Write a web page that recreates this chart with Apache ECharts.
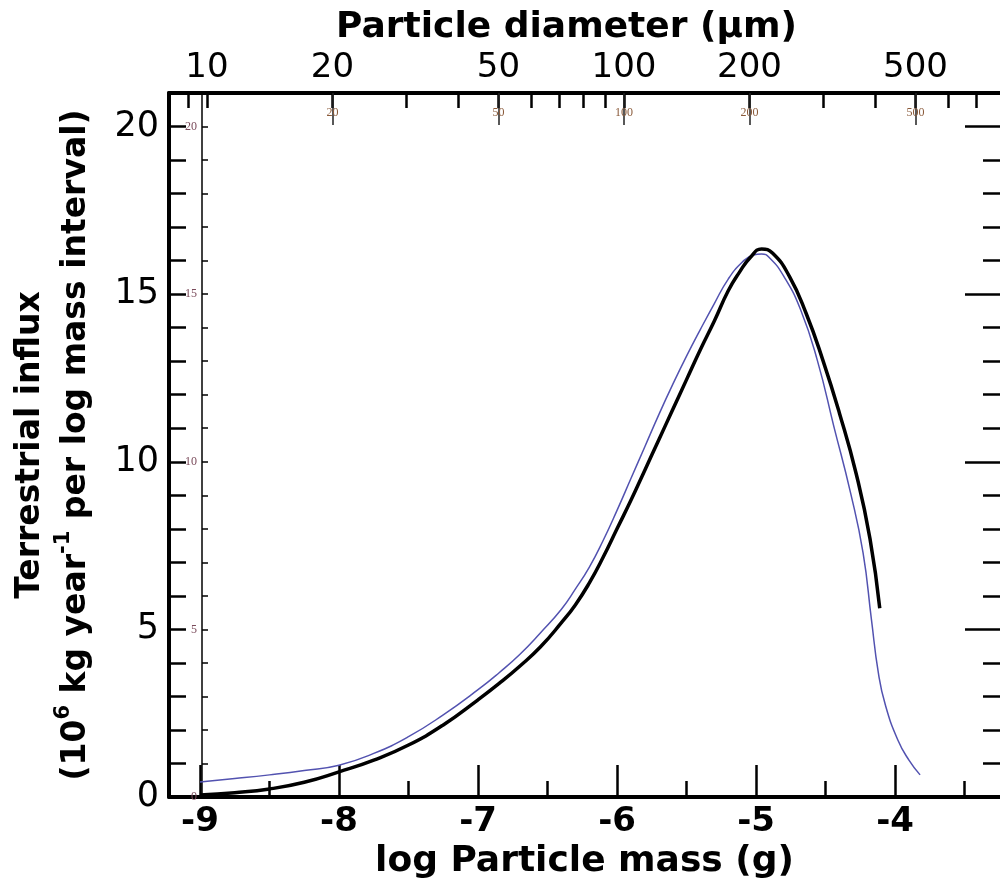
<!DOCTYPE html>
<html>
<head>
<meta charset="utf-8">
<script src="https://cdn.jsdelivr.net/npm/echarts@6/dist/echarts.min.js"></script>
<style>
  html, body { margin: 0; padding: 0; background: #fff; }
  #chart { width: 1000px; height: 888px; }
</style>
</head>
<body>
<div id="chart"></div>
<script>
// log particle mass (g) vs terrestrial influx, model curve (black) and data curve (blue)
var modelMass = [-9.0, -8.75, -8.5, -8.25, -8.0, -7.75, -7.5, -7.25, -7.0, -6.85, -6.7, -6.55, -6.4, -6.3, -6.2, -6.1, -6.0, -5.9, -5.8, -5.7, -5.6, -5.5, -5.4, -5.3, -5.2, -5.12, -5.04, -4.96, -4.88, -4.76, -4.64, -4.52, -4.4, -4.28, -4.18, -4.11];
var modelInflux = [0.06, 0.13, 0.24, 0.44, 0.75, 1.1, 1.55, 2.15, 2.9, 3.38, 3.9, 4.48, 5.2, 5.73, 6.38, 7.15, 8.0, 8.85, 9.75, 10.65, 11.55, 12.45, 13.35, 14.2, 15.1, 15.65, 16.1, 16.35, 16.22, 15.53, 14.43, 13.04, 11.45, 9.65, 7.7, 5.63];

var dataMass = [-9.0, -8.75, -8.5, -8.25, -8.0, -7.75, -7.5, -7.25, -7.0, -6.85, -6.7, -6.55, -6.4, -6.3, -6.2, -6.1, -6.0, -5.9, -5.8, -5.7, -5.6, -5.5, -5.4, -5.3, -5.2, -5.1, -5.02, -4.96, -4.9, -4.8, -4.68, -4.56, -4.44, -4.32, -4.23, -4.17, -4.12, -4.07, -3.98, -3.9, -3.82];
var dataInflux = [0.45, 0.55, 0.66, 0.79, 0.95, 1.3, 1.8, 2.45, 3.2, 3.7, 4.25, 4.9, 5.6, 6.2, 6.85, 7.65, 8.55, 9.5, 10.45, 11.4, 12.3, 13.15, 13.95, 14.72, 15.45, 15.95, 16.17, 16.2, 16.07, 15.53, 14.54, 13.04, 11.05, 9.07, 7.28, 5.3, 3.7, 2.75, 1.7, 1.1, 0.66];

// axis ticks
var massMajor = [-9, -8, -7, -6, -5, -4];
var massMinor = [-8.5, -7.5, -6.5, -5.5, -4.5, -3.5];
var influxLabels = [0, 5, 10, 15, 20];
var diamTicks = [9, 10, 20, 30, 40, 50, 60, 70, 80, 90, 100, 200, 300, 400, 500, 600, 700];
var diamLabels = [10, 20, 50, 100, 200, 500];
var diamInner = [20, 50, 100, 200, 500];

// diameter (um) -> log mass (g), grain density ~2.2 g/cm3
function diamToMass(d) { return -8.95 + 3 * (Math.log10(d) - 1); }
function massToDiam(m) { return Math.round(Math.pow(10, (m + 8.95) / 3 + 1)); }

var xMin = -9.223, xMax = -3.245;
var font = 'DejaVu Sans';
var serif = 'Liberation Serif';

var chartDom = document.getElementById('chart');
var myChart = echarts.init(chartDom);

var modelPts = modelMass.map((m, i) => [m, modelInflux[i]]);
var dataPts = dataMass.map((m, i) => [m, dataInflux[i]]);

var gridRect = { left: 169, right: 0, top: 93, bottom: 91 };

var option = {
    animation: false,
    backgroundColor: '#ffffff',
    // two grids on the same rect: the main one, and one for the underlying figure's marks
    grid: [
        Object.assign({}, gridRect),
        Object.assign({}, gridRect)
    ],
    xAxis: [
        {
            // bottom: major ticks + labels
            gridIndex: 0, type: 'value', position: 'bottom', min: xMin, max: xMax,
            name: 'log Particle mass (g)', nameLocation: 'middle', nameGap: 44,
            nameTextStyle: { fontFamily: font, fontWeight: 'bold', fontSize: 36, color: '#000' },
            axisLine: { show: true, onZero: false, lineStyle: { color: '#000', width: 4 } },
            axisTick: { show: true, inside: true, length: 32, lineStyle: { color: '#000', width: 2.5 }, customValues: massMajor },
            axisLabel: { show: true, customValues: massMajor, margin: 8, fontFamily: font, fontWeight: 'bold', fontSize: 34, color: '#000' },
            splitLine: { show: false }
        },
        {
            // top: particle diameter scale
            gridIndex: 0, type: 'value', position: 'top', min: xMin, max: xMax,
            name: 'Particle diameter (\u00b5m)', nameLocation: 'middle', nameGap: 44,
            nameTextStyle: { fontFamily: font, fontWeight: 'bold', fontSize: 36, color: '#000', padding: [0, 36, 0, 0] },
            axisLine: { show: true, onZero: false, lineStyle: { color: '#000', width: 4 } },
            axisTick: { show: true, inside: true, length: 15, lineStyle: { color: '#000', width: 2.5 }, customValues: diamTicks.map(diamToMass) },
            axisLabel: {
                show: true, customValues: diamLabels.map(diamToMass), margin: 8,
                fontFamily: font, fontSize: 34, color: '#000',
                formatter: function(v) { return massToDiam(v); }
            },
            splitLine: { show: false }
        },
        {
            // bottom: half-unit ticks
            gridIndex: 1, type: 'value', position: 'bottom', min: xMin, max: xMax,
            axisLine: { show: false, onZero: false },
            axisTick: { show: true, inside: true, length: 16, lineStyle: { color: '#000', width: 2.5 }, customValues: massMinor },
            axisLabel: { show: false },
            splitLine: { show: false }
        },
        {
            // top: small labels of the underlying figure
            gridIndex: 1, type: 'value', position: 'top', min: xMin, max: xMax,
            axisLine: { show: false, onZero: false },
            axisTick: { show: true, inside: true, length: 32, lineStyle: { color: '#222', width: 1.5 }, customValues: diamInner.map(diamToMass) },
            axisLabel: {
                show: true, inside: true, customValues: diamInner.map(diamToMass), margin: 14,
                fontFamily: serif, fontSize: 12, color: '#8a5a3a',
                formatter: function(v) { return massToDiam(v); }
            },
            splitLine: { show: false }
        }
    ],
    yAxis: [
        {
            gridIndex: 0, type: 'value', position: 'left', min: 0, max: 21, interval: 5,
            name: '{t|Terrestrial influx}\n{t|(10}{s|6}{t| kg year}{s|-1}{t| per log mass interval)}',
            nameLocation: 'middle', nameGap: 70,
            nameTextStyle: {
                color: '#000',
                rich: {
                    t: { fontFamily: font, fontWeight: 'bold', fontSize: 33, lineHeight: 46, color: '#000' },
                    s: { fontFamily: font, fontWeight: 'bold', fontSize: 21, lineHeight: 28, verticalAlign: 'top', color: '#000' }
                }
            },
            axisLine: { show: true, onZero: false, lineStyle: { color: '#000', width: 4 } },
            axisTick: { show: true, inside: true, length: 17, lineStyle: { color: '#000', width: 2.5 } },
            minorTick: { show: true, splitNumber: 5, length: 17, lineStyle: { color: '#000', width: 2.5 } },
            axisLabel: { show: true, customValues: influxLabels, margin: 10, fontFamily: font, fontSize: 35, color: '#000' },
            splitLine: { show: false }
        },
        {
            // right side ticks
            gridIndex: 0, type: 'value', position: 'right', min: 0, max: 21, interval: 5,
            axisLine: { show: false, onZero: false },
            axisTick: { show: true, inside: true, length: 35, lineStyle: { color: '#000', width: 2.5 } },
            minorTick: { show: true, splitNumber: 5, length: 17, lineStyle: { color: '#000', width: 2.5 } },
            axisLabel: { show: false },
            splitLine: { show: false }
        },
        {
            // inner axis of the underlying figure
            gridIndex: 1, type: 'value', position: 'left', offset: -33, min: 0, max: 21, interval: 5,
            axisLine: { show: true, onZero: false, lineStyle: { color: '#000', width: 1.5 } },
            axisTick: { show: true, inside: true, length: 6, lineStyle: { color: '#000', width: 1.5 } },
            minorTick: { show: true, splitNumber: 5, length: 6, lineStyle: { color: '#000', width: 1.5 } },
            axisLabel: { show: true, customValues: influxLabels, margin: 5, fontFamily: serif, fontSize: 12, color: '#7a4a5a' },
            splitLine: { show: false }
        }
    ],
    series: [
        {
            name: 'data', type: 'line', xAxisIndex: 0, yAxisIndex: 0,
            data: dataPts, smooth: 0.5, showSymbol: false,
            lineStyle: { color: '#5252b0', width: 1.5 }, z: 3
        },
        {
            name: 'model', type: 'line', xAxisIndex: 0, yAxisIndex: 0,
            data: modelPts, smooth: 0.5, showSymbol: false,
            lineStyle: { color: '#000000', width: 3.5 }, z: 4
        }
    ]
};
myChart.setOption(option);
</script>
</body>
</html>
